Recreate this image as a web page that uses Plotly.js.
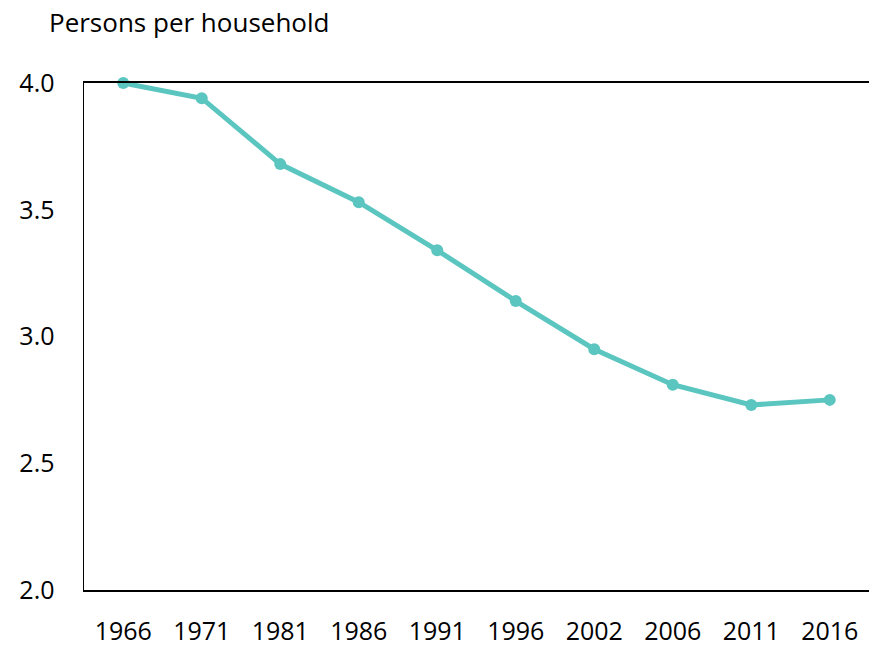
<!DOCTYPE html>
<html>
<head>
<meta charset="utf-8">
<script src="https://cdn.plot.ly/plotly-3.0.1.min.js"></script>
<style>
  html, body { margin: 0; padding: 0; background: #ffffff; }
  #chart { width: 869px; height: 647px; }
</style>
</head>
<body>
<div id="chart"></div>
<script>
// Census years and average household size
const years = ["1966", "1971", "1981", "1986", "1991", "1996", "2002", "2006", "2011", "2016"];
const personsPerHousehold = [4.00, 3.94, 3.68, 3.53, 3.34, 3.14, 2.95, 2.81, 2.73, 2.75];
const yTicks = [2.0, 2.5, 3.0, 3.5, 4.0];
const yTickLabels = ["2.0", "2.5", "3.0", "3.5", "4.0"];

const lineColor = "#5bc5c0";
const fontFamily = "'Open Sans', 'Noto Sans', sans-serif";

const trace = {
  type: "scatter",
  mode: "lines+markers",
  x: years,
  y: personsPerHousehold,
  line: { color: lineColor, width: 5 },
  marker: { color: lineColor, size: 12 },
  cliponaxis: false,
  hoverinfo: "x+y"
};

const layout = {
  width: 869,
  height: 647,
  paper_bgcolor: "#ffffff",
  plot_bgcolor: "#ffffff",
  margin: { l: 84, r: 0, t: 83, b: 57 },
  showlegend: false,
  font: { family: fontFamily, size: 26, color: "#000000" },
  title: {
    text: "Persons per household",
    font: { family: fontFamily, size: 26, color: "#000000" },
    xref: "container",
    yref: "container",
    x: 49 / 869,
    xanchor: "left",
    y: 1 - 23 / 647,
    yanchor: "middle"
  },
  xaxis: {
    type: "category",
    range: [-0.5, years.length - 0.5],
    showgrid: false,
    zeroline: false,
    showline: true,
    linecolor: "#000000",
    linewidth: 2,
    mirror: true,
    ticks: "",
    ticklabelstandoff: 18,
    tickfont: { family: fontFamily, size: 25, color: "#000000" }
  },
  yaxis: {
    range: [2.0, 4.0],
    tickvals: yTicks,
    ticktext: yTickLabels,
    showgrid: false,
    zeroline: false,
    showline: true,
    linecolor: "#000000",
    linewidth: 1.5,
    ticks: "",
    ticklabelstandoff: 23,
    tickfont: { family: fontFamily, size: 25, color: "#000000" }
  }
};

Plotly.newPlot("chart", [trace], layout, { displayModeBar: false, staticPlot: true });
</script>
</body>
</html>
